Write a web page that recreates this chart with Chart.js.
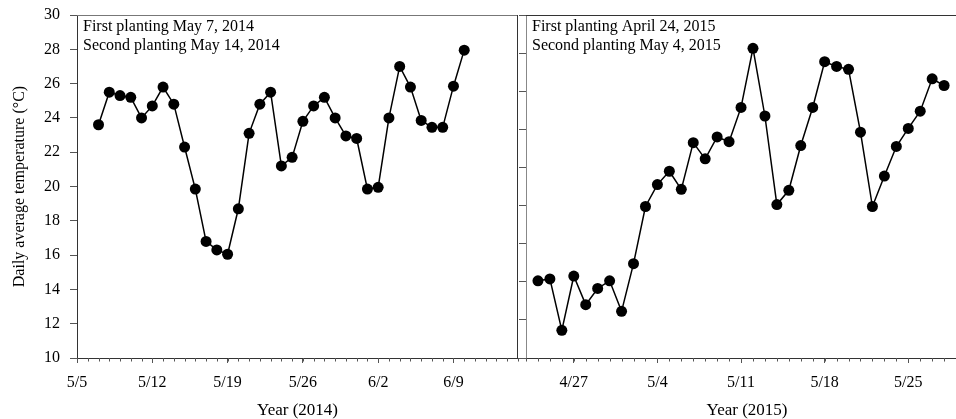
<!DOCTYPE html>
<html>
<head>
<meta charset="utf-8">
<script src="https://cdn.jsdelivr.net/npm/chart.js@4.4.1/dist/chart.umd.min.js"></script>
<style>
    html, body { margin: 0; padding: 0; background: #fff; overflow: hidden; }
    body { width: 956px; height: 419px; position: relative; }
    .panel { position: absolute; top: 0; height: 419px; }
    #panel-2014 { left: 0; width: 519px; }
    #panel-2015 { left: 519px; width: 449px; }
</style>
</head>
<body>
<div class="panel" id="panel-2014"><canvas id="chart2014"></canvas></div>
<div class="panel" id="panel-2015"><canvas id="chart2015"></canvas></div>
<script>
// 2014 season (axis 5/5 - 6/15)
const axis2014 = ['5/5', '6/15'];
const ticks2014 = ['5/5', '5/12', '5/19', '5/26', '6/2', '6/9'];
const firstDay2014 = '5/7';
const temps2014 = [23.6, 25.5, 25.3, 25.2, 24.0, 24.7, 25.8, 24.8, 22.3, 19.85,
                   16.8, 16.3, 16.05, 18.7, 23.1, 24.8, 25.5, 21.2, 21.7, 23.8,
                   24.7, 25.2, 24.0, 22.95, 22.8, 19.85, 19.95, 24.0, 27.0, 25.8,
                   23.85, 23.45, 23.45, 25.85, 27.95];
const notes2014 = ['First planting May 7, 2014', 'Second planting May 14, 2014'];

// 2015 season (axis 4/23 - 5/30)
const axis2015 = ['4/23', '5/30'];
const ticks2015 = ['4/27', '5/4', '5/11', '5/18', '5/25'];
const firstDay2015 = '4/24';
const temps2015 = [14.05, 14.15, 11.45, 14.3, 12.8, 13.65, 14.05, 12.45, 14.95, 17.95,
                   19.1, 19.8, 18.85, 21.3, 20.45, 21.6, 21.35, 23.15, 26.25, 22.7,
                   18.05, 18.8, 21.15, 23.15, 25.55, 25.3, 25.15, 21.85, 17.95, 19.55,
                   21.1, 22.05, 22.95, 24.65, 24.3];
const notes2015 = ['First planting April 24, 2015', 'Second planting May 4, 2015'];

const SERIF = "'Liberation Serif', 'Times New Roman', serif";

function dayNum(md, year) {
    const [m, d] = md.split('/').map(Number);
    return Date.UTC(year, m - 1, d) / 86400000;
}

// minor day ticks, top/right frame and the planting notes
const panelDecor = {
    id: 'panelDecor',
    afterDraw(chart, args, opts) {
        const { ctx, chartArea: a } = chart;
        const x = chart.scales.x;
        ctx.save();
        ctx.strokeStyle = '#555';
        ctx.lineWidth = 1;
        ctx.beginPath();
        for (let d = x.min; d <= x.max; d++) {
            const px = Math.round(x.getPixelForValue(d)) + 0.5;
            ctx.moveTo(px, a.bottom);
            ctx.lineTo(px, a.bottom + 3.5);
        }
        ctx.stroke();

        ctx.strokeStyle = opts.topColor;
        ctx.beginPath();
        ctx.moveTo(a.left, Math.round(a.top) + 0.5);
        ctx.lineTo(a.right, Math.round(a.top) + 0.5);
        ctx.stroke();
        if (opts.rightEdge) {
            ctx.strokeStyle = '#333';
            ctx.beginPath();
            ctx.moveTo(Math.round(a.right) - 0.5, a.top);
            ctx.lineTo(Math.round(a.right) - 0.5, a.bottom);
            ctx.stroke();
        }

        ctx.fillStyle = '#000';
        ctx.font = '16px ' + SERIF;
        opts.notes.forEach((t, i) => ctx.fillText(t, a.left + 6, a.top + 16 + i * 18.6));
        ctx.restore();
    }
};

function makePanel(canvasId, year, cfg) {
    const start = dayNum(cfg.axis[0], year);
    const first = dayNum(cfg.firstDay, year) - start;
    const points = cfg.temps.map((t, i) => ({ x: first + i, y: t }));

    return new Chart(document.getElementById(canvasId), {
        type: 'line',
        data: {
            datasets: [{
                data: points,
                borderColor: '#000',
                borderWidth: 1.5,
                pointRadius: 5.5,
                pointBackgroundColor: '#000',
                pointBorderWidth: 0,
                tension: 0,
                clip: false
            }]
        },
        options: {
            responsive: true,
            maintainAspectRatio: false,
            animation: false,
            layout: { autoPadding: false, padding: { top: 15, right: cfg.padRight, left: 0, bottom: 0 } },
            plugins: {
                legend: { display: false },
                tooltip: { enabled: false },
                panelDecor: { notes: cfg.notes, rightEdge: cfg.rightEdge, topColor: cfg.topColor }
            },
            scales: {
                x: {
                    type: 'linear',
                    min: 0,
                    max: dayNum(cfg.axis[1], year) - start,
                    afterBuildTicks: s => { s.ticks = cfg.ticks.map(t => ({ value: dayNum(t, year) - start })); },
                    afterFit: s => { s.height = 61; },
                    ticks: {
                        autoSkip: false,
                        maxRotation: 0,
                        padding: 10,
                        color: '#000',
                        font: { family: SERIF, size: 16 },
                        callback: (v, i) => cfg.ticks[i]
                    },
                    grid: { drawOnChartArea: false, tickLength: 5, color: '#555' },
                    border: { color: '#333' },
                    title: {
                        display: true,
                        text: 'Year (' + year + ')',
                        color: '#000',
                        font: { family: SERIF, size: 17 },
                        padding: { top: 0, bottom: -2 }
                    }
                },
                y: {
                    min: 10,
                    max: cfg.yMax,
                    afterFit: s => {
                        s.width = cfg.yWidth;
                        s.paddingTop = 0;
                        s.paddingBottom = 0;
                    },
                    ticks: {
                        display: cfg.yLabels,
                        stepSize: 2,
                        padding: 10,
                        color: '#000',
                        font: { family: SERIF, size: 16 }
                    },
                    grid: { drawOnChartArea: false, tickLength: 7, color: '#555' },
                    border: { color: cfg.yBorder },
                    title: {
                        display: cfg.yLabels,
                        text: 'Daily average temperature (°C)',
                        color: '#000',
                        font: { family: SERIF, size: 16 },
                        padding: { top: 10, bottom: 0 }
                    }
                }
            }
        },
        plugins: [panelDecor]
    });
}

makePanel('chart2014', 2014, {
    axis: axis2014, ticks: ticks2014, firstDay: firstDay2014, temps: temps2014, notes: notes2014,
    yMax: 30, yWidth: 77, yLabels: true, yBorder: '#333', padRight: 1, rightEdge: true, topColor: '#777'
});

makePanel('chart2015', 2015, {
    axis: axis2015, ticks: ticks2015, firstDay: firstDay2015, temps: temps2015, notes: notes2015,
    yMax: 28, yWidth: 7, yLabels: false, yBorder: '#888', padRight: 0, rightEdge: false, topColor: '#333'
});
</script>
</body>
</html>
